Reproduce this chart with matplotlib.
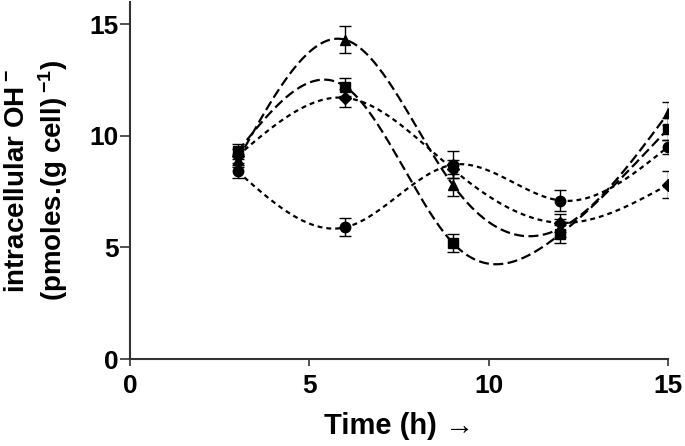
import numpy as np
import matplotlib
matplotlib.use("Agg")
from matplotlib import pyplot as plt

plt.rcParams['font.family'] = ['Liberation Sans', 'DejaVu Sans']
plt.rcParams['font.weight'] = 'bold'
plt.rcParams['mathtext.fontset'] = 'custom'
plt.rcParams['mathtext.rm'] = 'Liberation Sans:bold'
plt.rcParams['mathtext.default'] = 'rm'

# sampling times (h)
time = [3, 6, 9, 12, 15]

# mean values and errors of the four series
triangle = [8.9, 14.3, 7.8, 5.85, 11.0]
triangle_err = [0.3, 0.6, 0.5, 0.4, 0.5]
square = [9.3, 12.2, 5.2, 5.6, 10.3]
square_err = [0.35, 0.4, 0.4, 0.4, 0.5]
circle = [8.4, 5.9, 8.7, 7.1, 9.5]
circle_err = [0.3, 0.4, 0.6, 0.45, 0.3]
diamond = [9.1, 11.7, 8.5, 6.1, 7.8]
diamond_err = [0.3, 0.4, 0.4, 0.4, 0.6]


def natural_spline(x, y, xs):
    # natural cubic spline through the points
    x = np.asarray(x, float)
    y = np.asarray(y, float)
    n = len(x)
    h = np.diff(x)
    A = np.zeros((n, n))
    b = np.zeros(n)
    A[0, 0] = A[-1, -1] = 1
    for i in range(1, n - 1):
        A[i, i - 1] = h[i - 1]
        A[i, i] = 2 * (h[i - 1] + h[i])
        A[i, i + 1] = h[i]
        b[i] = 6 * ((y[i + 1] - y[i]) / h[i] - (y[i] - y[i - 1]) / h[i - 1])
    M = np.linalg.solve(A, b)
    idx = np.clip(np.searchsorted(x, xs) - 1, 0, n - 2)
    x0, x1 = x[idx], x[idx + 1]
    hh = x1 - x0
    t0, t1 = x1 - xs, xs - x0
    return (M[idx] * t0 ** 3 + M[idx + 1] * t1 ** 3) / (6 * hh) + \
        (y[idx] / hh - M[idx] * hh / 6) * t0 + (y[idx + 1] / hh - M[idx + 1] * hh / 6) * t1


long_dash = (4.5, 2.0)
short_dash = (2.2, 1.8)
series = [
    (triangle, triangle_err, '^', long_dash),
    (square, square_err, 's', long_dash),
    (circle, circle_err, 'o', short_dash),
    (diamond, diamond_err, 'D', short_dash),
]

fig = plt.figure(figsize=(6.85, 4.46), dpi=100)
ax = fig.add_axes([0.19, 0.195, 0.785, 0.801])

xs = np.linspace(time[0], time[-1], 300)
for vals, err, mk, dash in series:
    ax.plot(xs, natural_spline(time, vals, xs), color='black', lw=1.6, dashes=dash)
    ms = 6.5 if mk == 'D' else 7.5
    ax.errorbar(time, vals, yerr=err, fmt=mk, color='black', ms=ms,
                elinewidth=1, capsize=4, capthick=1)

ax.set_xlim(0, 15)
ax.set_ylim(0, 16)
ax.set_xticks([0, 5, 10, 15])
ax.set_yticks([0, 5, 10, 15])
for s in ['top', 'right']:
    ax.spines[s].set_visible(False)
for s in ['left', 'bottom']:
    ax.spines[s].set_linewidth(1.5)
    ax.spines[s].set_color('#333333')
ax.tick_params(labelsize=19, width=1.2, color='#333333')
ax.tick_params(axis='y', length=7, pad=1)
ax.tick_params(axis='x', length=5, pad=6)

ax.set_xlabel('Time (h) \u2192', fontsize=21, fontweight='bold', labelpad=10)
ax.set_ylabel('intracellular OH$\\,^{-}$\n(pmoles.(g cell)$\\,^{-1}$)', fontsize=20,
              fontweight='bold', labelpad=14, linespacing=1.25)

fig.savefig('out.png', dpi=100)
